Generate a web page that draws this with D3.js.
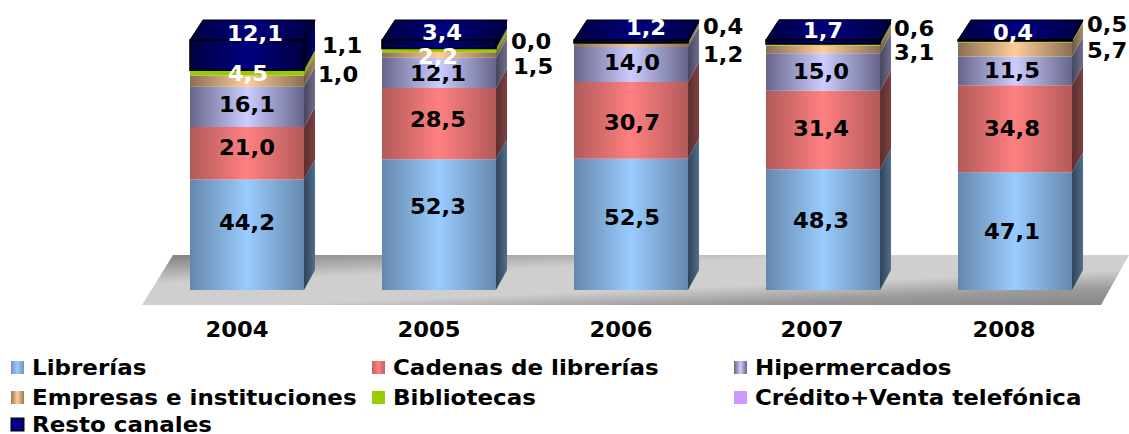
<!DOCTYPE html>
<html><head><meta charset="utf-8">
<script src="https://cdnjs.cloudflare.com/ajax/libs/d3/7.8.5/d3.min.js"></script>
<style>html,body{margin:0;background:#fff}svg{display:block}text{font-family:"DejaVu Sans",sans-serif;font-weight:bold}</style>
</head><body><svg id="c" width="1129" height="434"></svg>
<script>
const years=["2004","2005","2006","2007","2008"];
const seriesNames=["Librerías","Cadenas de librerías","Hipermercados","Empresas e instituciones","Bibliotecas","Crédito+Venta telefónica","Resto canales"];
const librerias=[44.2,52.3,52.5,48.3,47.1];
const cadenas=[21.0,28.5,30.7,31.4,34.8];
const hiper=[16.1,12.1,14.0,15.0,11.5];
const empresas=[4.5,2.2,1.2,3.1,5.7];
const bibliotecas=[1.0,1.5,0.4,0.6,0.5];
const credito=[1.1,0.0,0,0,0];
const resto=[12.1,3.4,1.2,1.7,0.4];
const seriesValues=[librerias,cadenas,hiper,empresas,bibliotecas,credito,resto];
const centerColors=["#99ccff","#ff8080","#ccccff","#ffcc99","#99cc00","#99cc00","#000080"];
const edgeColors=["#6488ac","#b25a5a","#66668c","#8a6f52","#99cc00","#99cc00","#000040"];
const sideDark=["#2f4258","#5c2e2e","#44445c","#6f5a42","#6f9400","#6f9400","#000030"];
const sideLight=["#4f6f90","#7f4040","#70708f","#a68a66","#85b000","#85b000","#000070"];
const legendCenter=["#99ccff","#ff8080","#ccccff","#ffcc99","#99cc00","#cc99ff","#000080"];
const legendEdge=["#6f94ba","#c06060","#666688","#a07850","#99cc00","#cc99ff","#000080"];

// text layout
const labelY=[[223,207,218,221,232],[148,120,123,129,129],[105,74,63,72,71]];
const labelX=[247,438,632,821,1012];
const topX=[255,442,646,823,1013], topY=[34,33,28,31,33];
const empLabel=[[248,74],[438,57]];
const yearX=[237,429,621,812,1004];
const sideLabels=[[322,46,"1,1"],[318,75,"1,0"],[511,42,"0,0"],[513,67,"1,5"],[703,27,"0,4"],[703,55,"1,2"],[894,29,"0,6"],[894,53,"3,1"],[1087,25,"0,5"],[1087,51,"5,7"]];
const fs=21, sx=1.08, legendSx=1.095;

const svg=d3.select("#c"),defs=svg.append("defs");
const x=d3.scaleBand().domain(years).range([151,1111]).paddingInner(0.406).paddingOuter(0.203);
const y=d3.scaleLinear().domain([0,100]).range([290,40]);
const dx=11,dy=-20;
const fmt=v=>v.toFixed(1).replace(".",",");

function hgrad(id,c,e){const g=defs.append("linearGradient").attr("id",id);
 [[0,e],[.5,c],[1,e]].forEach(s=>g.append("stop").attr("offset",s[0]).attr("stop-color",s[1]));}
seriesNames.forEach((_,i)=>{hgrad("f"+i,centerColors[i],edgeColors[i]);hgrad("l"+i,legendCenter[i],legendEdge[i]);
 const g=defs.append("linearGradient").attr("id","s"+i);
 g.append("stop").attr("offset",0).attr("stop-color",sideDark[i]);
 g.append("stop").attr("offset",1).attr("stop-color",sideLight[i]);});
const tg=defs.append("linearGradient").attr("id","top");
[[0,"#000040"],[.5,"#000080"],[1,"#000040"]].forEach(s=>tg.append("stop").attr("offset",s[0]).attr("stop-color",s[1]));

// floor
const fl=[[173,255],[1129,255],[1101,305],[142,305]];
const fg=defs.append("linearGradient").attr("id","floor").attr("gradientUnits","userSpaceOnUse")
 .attr("x1",633).attr("y1",231).attr("x2",637).attr("y2",329);
[[0,"#747474"],[.34,"#cfcfcf"],[.6,"#cfcfcf"],[.78,"#9a9a9a"],[1,"#808080"]].forEach(s=>fg.append("stop").attr("offset",s[0]).attr("stop-color",s[1]));
svg.append("polygon").attr("points",fl.join(" ")).attr("fill","url(#floor)");

function label(t,xx,yy,anchor,col,scale=sx){
 return svg.append("text").attr("transform",`translate(${xx},${yy}) scale(${scale},1)`)
  .attr("text-anchor",anchor).attr("dominant-baseline","central").attr("fill",col).attr("font-size",fs).text(t);
}
const stack=years.map((yr,j)=>{let c=0;return seriesValues.map((v,i)=>{const o={yr,j,i,v:v[j],y0:c,y1:c+v[j]};c=o.y1;return o;});});
stack.forEach((segs,j)=>{
 const g=svg.append("g"),X=x(years[j]),W=x.bandwidth();
 const vis=segs.filter(s=>s.v>0);
 g.selectAll(".side").data(vis).join("polygon").attr("fill",d=>`url(#s${d.i})`)
  .attr("points",d=>[[X+W,y(d.y0)],[X+W+dx,y(d.y0)+dy],[X+W+dx,y(d.y1)+dy],[X+W,y(d.y1)]].join(" "));
 g.selectAll(".front").data(vis).join("rect").attr("x",X).attr("width",W)
  .attr("y",d=>y(d.y1)).attr("height",d=>y(d.y0)-y(d.y1)).attr("fill",d=>`url(#f${d.i})`);
 const top=y(segs[6].y1);
 g.append("polygon").attr("fill","url(#top)").attr("stroke","#000").attr("stroke-width",1)
  .attr("points",[[X,top],[X+dx+2,top+dy],[X+W+dx,top+dy],[X+W,top]].join(" "));
 const r=segs[6];
 g.append("rect").attr("x",X).attr("width",W).attr("y",y(r.y1)).attr("height",y(r.y0)-y(r.y1)).attr("fill","none").attr("stroke","#000").attr("stroke-width",1.5);
 g.append("line").attr("x1",X+W).attr("x2",X+W+dx).attr("y1",y(r.y1)).attr("y2",y(r.y1)+dy).attr("stroke","#000").attr("stroke-width",1);
 [0,1,2].forEach(i=>label(fmt(segs[i].v),labelX[j],labelY[i][j],"middle","#000"));
 if(j<2) label(fmt(segs[3].v),empLabel[j][0],empLabel[j][1],"middle","#fff");
 label(fmt(segs[6].v),topX[j],topY[j],"middle","#fff");
 label(years[j],yearX[j],330,"middle","#000");
});
sideLabels.forEach(([xx,yy,t])=>label(t,xx,yy,"start","#000"));

// legend
const lx=[11,372,734],ly=[368,398,425];
seriesNames.forEach((n,i)=>{const c=i%3,r=Math.floor(i/3);
 svg.append("rect").attr("x",lx[c]).attr("y",ly[r]-7).attr("width",13).attr("height",13).attr("fill",`url(#l${i})`).attr("stroke",i==6?"#000":"none");
 label(n,lx[c]+21,ly[r],"start","#000",legendSx);
});
</script></body></html>
